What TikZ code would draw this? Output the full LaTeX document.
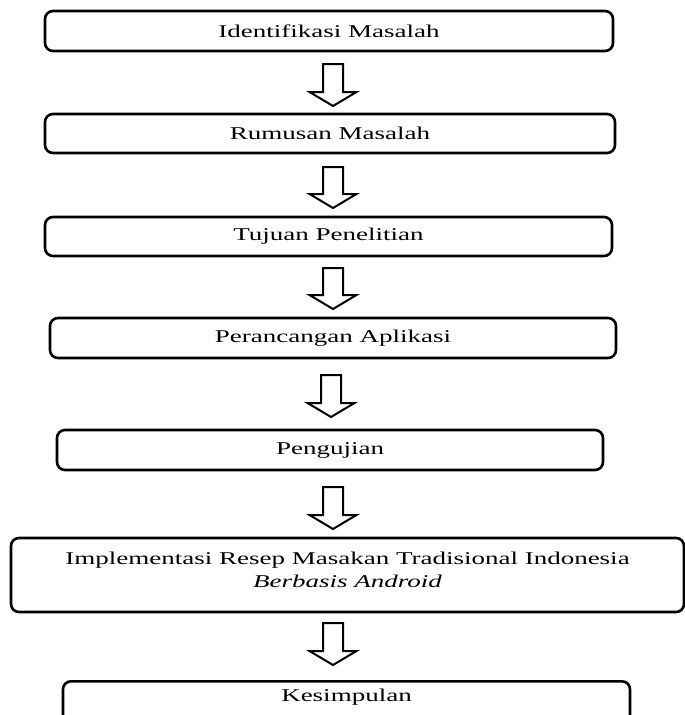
\documentclass[tikz,border=0pt]{standalone}
\usepackage{fontspec}
\setmainfont[FakeStretch=1.5]{Liberation Serif}
\usetikzlibrary{calc}
\begin{document}
\begin{tikzpicture}[x=1pt,y=-1pt,
  box/.style={draw=black, line width=2.6pt, rounded corners=8pt, inner sep=0pt,
    align=center, font=\fontsize{18}{23}\selectfont},
  lbl/.style={inner sep=0pt, align=center, font=\fontsize{18}{23}\selectfont},
  blockarrow/.style={draw=black, line width=2pt, line join=miter, fill=white}]
\clip (0,0) rectangle (685,715);
\fill[white] (0,0) rectangle (685,715);
\node[box, minimum width=568pt, minimum height=40pt] (b1) at (329,31) {Identifikasi Masalah};
\node[box, minimum width=570pt, minimum height=39pt] (b2) at (330,133.5) {Rumusan Masalah};
\node[box, minimum width=567pt, minimum height=39pt] (b3) at (328.5,236.5) {Tujuan Penelitian};
\node[box, minimum width=566pt, minimum height=40pt] (b4) at (333,338) {Perancangan Aplikasi};
\node[box, minimum width=546pt, minimum height=40pt] (b5) at (330,450) {Pengujian};
\node[box, minimum width=673pt, minimum height=74pt] (b6) at (347.5,575) {};
\node[lbl] (t6) at (347.5,570) {Implementasi Resep Masakan Tradisional Indonesia\\\textit{Berbasis Android}};
\node[box, minimum width=567pt, minimum height=60pt, anchor=north] (b7) at (346.5,680) {};
\node[lbl] (t7) at (346.5,697) {Kesimpulan};
% block arrows: top and tip coordinates
\coordinate (a1t) at (333,64);  \coordinate (a1b) at (333,106);
\coordinate (a2t) at (333,167); \coordinate (a2b) at (333,208);
\coordinate (a3t) at (333,268); \coordinate (a3b) at (333,309);
\coordinate (a4t) at (331,375); \coordinate (a4b) at (331,417);
\coordinate (a5t) at (333,487); \coordinate (a5b) at (333,529);
\coordinate (a6t) at (333,623); \coordinate (a6b) at (333,665);
\foreach \i in {1,...,6}{
  \draw[blockarrow] ($(a\i t)+(-10,0)$) -- ($(a\i t)+(10,0)$)
    -- ($(a\i b)+(10,-14)$) -- ($(a\i b)+(23.5,-14)$) -- (a\i b)
    -- ($(a\i b)+(-23.5,-14)$) -- ($(a\i b)+(-10,-14)$) -- cycle;
}
\end{tikzpicture}
\end{document}
